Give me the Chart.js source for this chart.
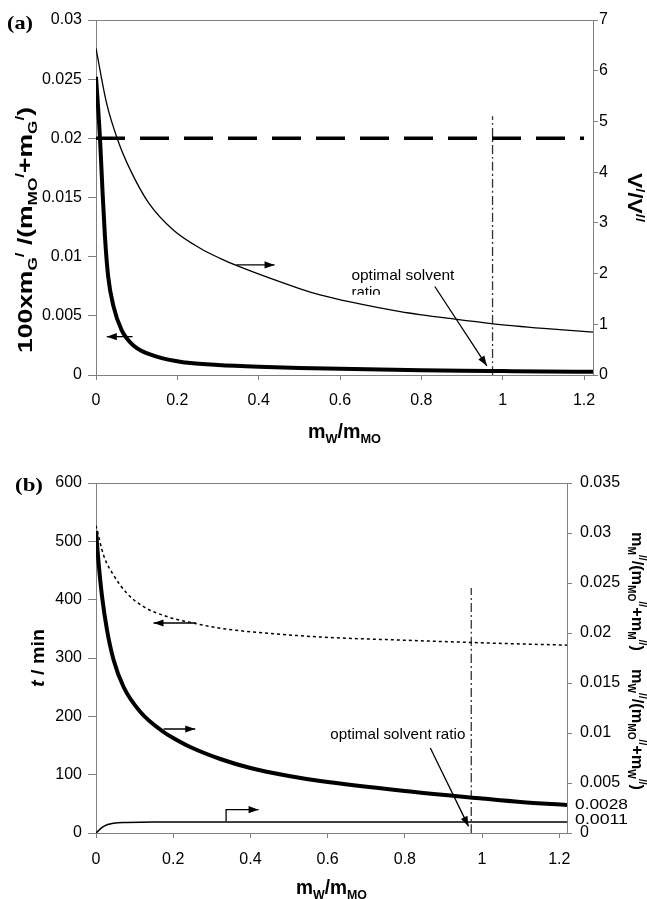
<!DOCTYPE html>
<html><head><meta charset="utf-8">
<script src="https://cdn.jsdelivr.net/npm/chart.js@4/dist/chart.umd.min.js"></script>
<style>
html,body{margin:0;padding:0;background:#fff;width:647px;height:899px;overflow:hidden}
canvas{position:absolute;left:0}
#ca{top:0}
#cb{top:445px}
</style></head><body>
<canvas id="ca" width="647" height="445"></canvas>
<canvas id="cb" width="647" height="454"></canvas>
<script>
// ---------- Panel (a) data ----------
const aThickX = [0, 0.0098, 0.0155, 0.022, 0.030, 0.043, 0.063, 0.092, 0.149, 0.22, 0.30, 0.40, 0.50, 0.60, 0.70, 0.80, 0.90, 1.00, 1.10, 1.222];
const aThickY = [0.0252, 0.0200, 0.0159, 0.0117, 0.0083, 0.0058, 0.0038, 0.0025, 0.00155, 0.00105, 0.00085, 0.0007, 0.0006, 0.00053, 0.00046, 0.0004, 0.00036, 0.00033, 0.0003, 0.00027];
const aThinX = [0, 0.026, 0.055, 0.084, 0.129, 0.19, 0.256, 0.305, 0.345, 0.502, 0.551, 0.625, 0.748, 0.883, 0.977, 1.1, 1.222];
const aThinY = [6.44, 5.36, 4.60, 4.05, 3.40, 2.86, 2.50, 2.30, 2.16, 1.70, 1.58, 1.44, 1.25, 1.10, 1.01, 0.92, 0.845];
const aLimitX = [0, 1.2];
const aLimitY = [0.02, 0.02];
const aOptX = [0.975, 0.975];
const aOptY = [0, 5.1];
const aXTicks = [0, 0.2, 0.4, 0.6, 0.8, 1, 1.2];
const aLeftTicks = [0, 0.005, 0.01, 0.015, 0.02, 0.025, 0.03];
const aRightTicks = [0, 1, 2, 3, 4, 5, 6, 7];

// ---------- Panel (b) data ----------
const bDotX = [0, 0.0197, 0.0456, 0.080, 0.123, 0.184, 0.262, 0.322, 0.40, 0.581, 0.80, 1.00, 1.22];
const bDotY = [527, 476, 442, 411, 388, 371, 358.5, 351, 345, 336, 330.5, 326, 322];
const bThickX = [0, 0.0067, 0.0155, 0.0285, 0.0456, 0.0715, 0.115, 0.175, 0.2, 0.244, 0.322, 0.4, 0.5, 0.581, 0.8, 1.0, 1.1, 1.22];
const bThickY = [0.0302, 0.0270, 0.0237, 0.0203, 0.0173, 0.0146, 0.0121, 0.0101, 0.0095, 0.0086, 0.0074, 0.0065, 0.0057, 0.0052, 0.0042, 0.00345, 0.0031, 0.0028];
const bThinX = [0, 0.0197, 0.0456, 0.08, 0.15, 0.4, 0.8, 1.22];
const bThinY = [0, 0.00066, 0.00097, 0.00105, 0.0011, 0.0011, 0.0011, 0.0011];
const bOptX = [0.972, 0.972];
const bOptY = [0, 0.0245];
const bXTicks = [0, 0.2, 0.4, 0.6, 0.8, 1, 1.2];
const bLeftTicks = [0, 100, 200, 300, 400, 500, 600];
const bRightTicks = [0, 0.005, 0.01, 0.015, 0.02, 0.025, 0.03, 0.035];
const bExtraRightLabels = [0.0028, 0.0011];

// ---------- helpers ----------
const SANS = "'Liberation Sans', Arial, Helvetica, sans-serif";
const SERIF = "'Liberation Serif', 'Times New Roman', serif";
const AXC = '#808080';
Chart.defaults.font.family = SANS;
Chart.defaults.color = '#000';

function pts(xs, ys){ return xs.map((x,i)=>({x:x, y:ys[i]})); }
function fmt(v){ return String(+(+v).toFixed(4)); }

function segFont(seg, M){
  const small = seg.k === 'sub' || seg.k === 'sup';
  const size = small ? Math.round(M*0.65) : M;
  return (seg.it ? 'italic ' : '') + (seg.bold === false ? '' : 'bold ') + size + 'px ' + (seg.fam || SANS);
}
function segDy(seg, M){
  if (seg.k === 'sub') return 0.25*M;
  if (seg.k === 'sup') return -0.42*M;
  return 0;
}
// rich text centred on (cx,cy) (visual middle), rotated, scaled to a target length
function drawRich(ctx, segs, cx, cy, rot, M, target){
  ctx.save();
  let w = 0;
  const ws = segs.map(s => { ctx.font = segFont(s, M); const m = ctx.measureText(s.t).width; w += m; return m; });
  ctx.translate(cx, cy);
  ctx.rotate(rot);
  const sc = target ? target / w : 1;
  ctx.scale(sc, 1);
  ctx.fillStyle = '#000';
  ctx.textBaseline = 'alphabetic';
  ctx.textAlign = 'left';
  let x = -w/2;
  segs.forEach((s,i) => { ctx.font = segFont(s, M); ctx.fillText(s.t, x, 0.36*M + segDy(s, M)); x += ws[i]; });
  ctx.restore();
}
function drawTextLeft(ctx, txt, x, cy, font, target){
  ctx.save();
  ctx.font = font;
  const w = ctx.measureText(txt).width;
  ctx.translate(x, cy);
  if (target) ctx.scale(target / w, 1);
  ctx.fillStyle = '#000';
  ctx.textBaseline = 'middle';
  ctx.textAlign = 'left';
  ctx.fillText(txt, 0, 0);
  ctx.restore();
}
function arrowHead(ctx, x1, y1, x2, y2, len, half){
  const a = Math.atan2(y2-y1, x2-x1);
  ctx.beginPath();
  ctx.moveTo(x2, y2);
  ctx.lineTo(x2 - len*Math.cos(a) + half*Math.sin(a), y2 - len*Math.sin(a) - half*Math.cos(a));
  ctx.lineTo(x2 - len*Math.cos(a) - half*Math.sin(a), y2 - len*Math.sin(a) + half*Math.cos(a));
  ctx.closePath();
  ctx.fill();
}
function drawArrow(ctx, path){
  ctx.save();
  ctx.strokeStyle = '#000'; ctx.fillStyle = '#000'; ctx.lineWidth = 1.3; ctx.setLineDash([]);
  ctx.beginPath();
  path.forEach((p,i) => i ? ctx.lineTo(p[0], p[1]) : ctx.moveTo(p[0], p[1]));
  ctx.stroke();
  const n = path.length;
  arrowHead(ctx, path[n-2][0], path[n-2][1], path[n-1][0], path[n-1][1], 10, 3.6);
  ctx.restore();
}
function topBorder(chart){
  const ca = chart.chartArea, ctx = chart.ctx;
  ctx.save();
  ctx.strokeStyle = AXC; ctx.lineWidth = 1;
  ctx.beginPath(); ctx.moveTo(ca.left, Math.round(ca.top)+0.5); ctx.lineTo(ca.right, Math.round(ca.top)+0.5); ctx.stroke();
  ctx.restore();
}

function axisCfg(pos, min, max, step, tickLen, pad, size, bounds){
  return {
    type: 'linear', position: pos, min: min, max: max,
    ticks: { stepSize: step, padding: pad, color: '#000', font: { size: 16, family: SANS }, callback: v => fmt(v), maxRotation: 0, autoSkip: false, includeBounds: bounds },
    grid: { display: true, drawOnChartArea: false, drawTicks: true, tickLength: tickLen, color: AXC, lineWidth: 1 },
    border: { display: true, color: AXC, width: 1 },
    afterFit: s => { if (pos === 'bottom') s.height = size; else s.width = size; }
  };
}

function lineDs(xs, ys, axis, width, dash, color){
  return { data: pts(xs, ys), yAxisID: axis, borderColor: color || '#000', borderWidth: width,
    borderDash: dash || [], pointRadius: 0, fill: false, cubicInterpolationMode: 'monotone', tension: 0 };
}

// ---------- Chart (a) ----------
const plugA = {
  id: 'decoA',
  afterDraw(chart){
    const ctx = chart.ctx, X = chart.scales.x, L = chart.scales.yL, R = chart.scales.yR;
    topBorder(chart);
    drawArrow(ctx, [[X.getPixelForValue(0.345), R.getPixelForValue(2.17)], [X.getPixelForValue(0.439), R.getPixelForValue(2.17)]]);
    drawArrow(ctx, [[X.getPixelForValue(0.09), L.getPixelForValue(0.00324)], [X.getPixelForValue(0.0266), L.getPixelForValue(0.00324)]]);
    drawArrow(ctx, [[X.getPixelForValue(0.833), R.getPixelForValue(1.745)], [X.getPixelForValue(0.961), R.getPixelForValue(0.18)]]);
    const tx = X.getPixelForValue(0.628);
    drawTextLeft(ctx, 'optimal solvent', tx, R.getPixelForValue(1.96), '15px ' + SANS, 103);
    ctx.save();
    ctx.beginPath();
    const clipY = R.getPixelForValue(1.58);
    ctx.rect(tx - 5, clipY - 30, 120, 30);
    ctx.clip();
    drawTextLeft(ctx, 'ratio', tx, R.getPixelForValue(1.96) + 17, '15px ' + SANS, null);
    ctx.restore();
    drawRich(ctx, [{t:'100xm'},{t:'G',k:'sub'},{t:'/',k:'sup'},{t:' /(m'},{t:'MO',k:'sub'},{t:'/',k:'sup'},{t:'+m'},{t:'G',k:'sub'},{t:'/',k:'sup'},{t:')'}],
      25, 230, -Math.PI/2, 20, 246);
    drawRich(ctx, [{t:'V'},{t:'/',k:'sup'},{t:'/V'},{t:'//',k:'sup'}], 635, (L.top+L.bottom)/2, Math.PI/2, 20, 49);
    drawRich(ctx, [{t:'m'},{t:'W',k:'sub'},{t:'/m'},{t:'MO',k:'sub'}], (X.left+X.right)/2, 431, 0, 20, 73);
    drawRich(ctx, [{t:'(a)', fam:SERIF}], 20, 22, 0, 19, 26);
  }
};

new Chart(document.getElementById('ca'), {
  type: 'line',
  data: { datasets: [
    lineDs(aThickX, aThickY, 'yL', 4),
    lineDs(aThinX, aThinY, 'yR', 1.3),
    lineDs(aLimitX, aLimitY, 'yL', 3.5, [29, 15]),
    lineDs(aOptX, aOptY, 'yR', 1.3, [9, 3, 2, 3], '#333')
  ]},
  options: {
    responsive: false, animation: false, events: [],
    layout: { padding: { top: 20, left: 0, right: 0, bottom: 0 } },
    plugins: { legend: { display: false }, tooltip: { enabled: false } },
    scales: {
      x: axisCfg('bottom', 0, 1.222, 0.2, 5, 11, 70, false),
      yL: axisCfg('left', 0, 0.03, 0.005, 8, 6, 96, true),
      yR: axisCfg('right', 0, 7, 1, 5, 1, 54, true)
    }
  },
  plugins: [plugA]
});

// ---------- Chart (b) ----------
const plugB = {
  id: 'decoB',
  afterDraw(chart){
    const ctx = chart.ctx, X = chart.scales.x, L = chart.scales.yL, R = chart.scales.yR;
    topBorder(chart);
    drawArrow(ctx, [[X.getPixelForValue(0.259), L.getPixelForValue(360)], [X.getPixelForValue(0.149), L.getPixelForValue(360)]]);
    drawArrow(ctx, [[X.getPixelForValue(0.175), R.getPixelForValue(0.0104)], [X.getPixelForValue(0.257), R.getPixelForValue(0.0104)]]);
    drawArrow(ctx, [[X.getPixelForValue(0.337), R.getPixelForValue(0.00118)], [X.getPixelForValue(0.337), R.getPixelForValue(0.00233)], [X.getPixelForValue(0.421), R.getPixelForValue(0.00233)]]);
    drawArrow(ctx, [[X.getPixelForValue(0.866), R.getPixelForValue(0.0085)], [X.getPixelForValue(0.965), R.getPixelForValue(0.00066)]]);
    drawTextLeft(ctx, 'optimal solvent ratio', X.getPixelForValue(0.607), R.getPixelForValue(0.00983), '15px ' + SANS, 135);
    bExtraRightLabels.forEach(v => {
      drawTextLeft(ctx, fmt(v), R.left + 8, R.getPixelForValue(v) + (v < 0.002 ? -2 : 0), '15px ' + SANS, 53);
    });
    drawRich(ctx, [{t:'t', it:true},{t:' / min'}], 36.7, (L.top+L.bottom)/2, -Math.PI/2, 19, 58);
    drawRich(ctx, [{t:'m'},{t:'M',k:'sub'},{t:'//',k:'sup'},{t:'/(m'},{t:'MO',k:'sub'},{t:'//',k:'sup'},{t:'+m'},{t:'M',k:'sub'},{t:'//',k:'sup'},{t:')    m'},
                   {t:'W',k:'sub'},{t:'//',k:'sup'},{t:'/(m'},{t:'MO',k:'sub'},{t:'//',k:'sup'},{t:'+m'},{t:'W',k:'sub'},{t:'//',k:'sup'},{t:')'}],
      638, 216, Math.PI/2, 16, 258);
    drawRich(ctx, [{t:'m'},{t:'W',k:'sub'},{t:'/m'},{t:'MO',k:'sub'}], (X.left+X.right)/2, 442, 0, 20, 71);
    drawRich(ctx, [{t:'(b)', fam:SERIF}], 29, 39, 0, 19, 28);
  }
};

new Chart(document.getElementById('cb'), {
  type: 'line',
  data: { datasets: [
    lineDs(bDotX, bDotY, 'yL', 1.5, [3, 3]),
    lineDs(bThickX, bThickY, 'yR', 4),
    lineDs(bThinX, bThinY, 'yR', 1.5),
    lineDs(bOptX, bOptY, 'yR', 1.3, [9, 3, 2, 3], '#333')
  ]},
  options: {
    responsive: false, animation: false, events: [],
    layout: { padding: { top: 38, left: 0, right: 0, bottom: 0 } },
    plugins: { legend: { display: false }, tooltip: { enabled: false } },
    scales: {
      x: axisCfg('bottom', 0, 1.22, 0.2, 5, 12, 66, false),
      yL: axisCfg('left', 0, 600, 100, 8, 6, 96, true),
      yR: axisCfg('right', 0, 0.035, 0.005, 5, 8, 80, true)
    }
  },
  plugins: [plugB]
});
</script>
</body></html>
